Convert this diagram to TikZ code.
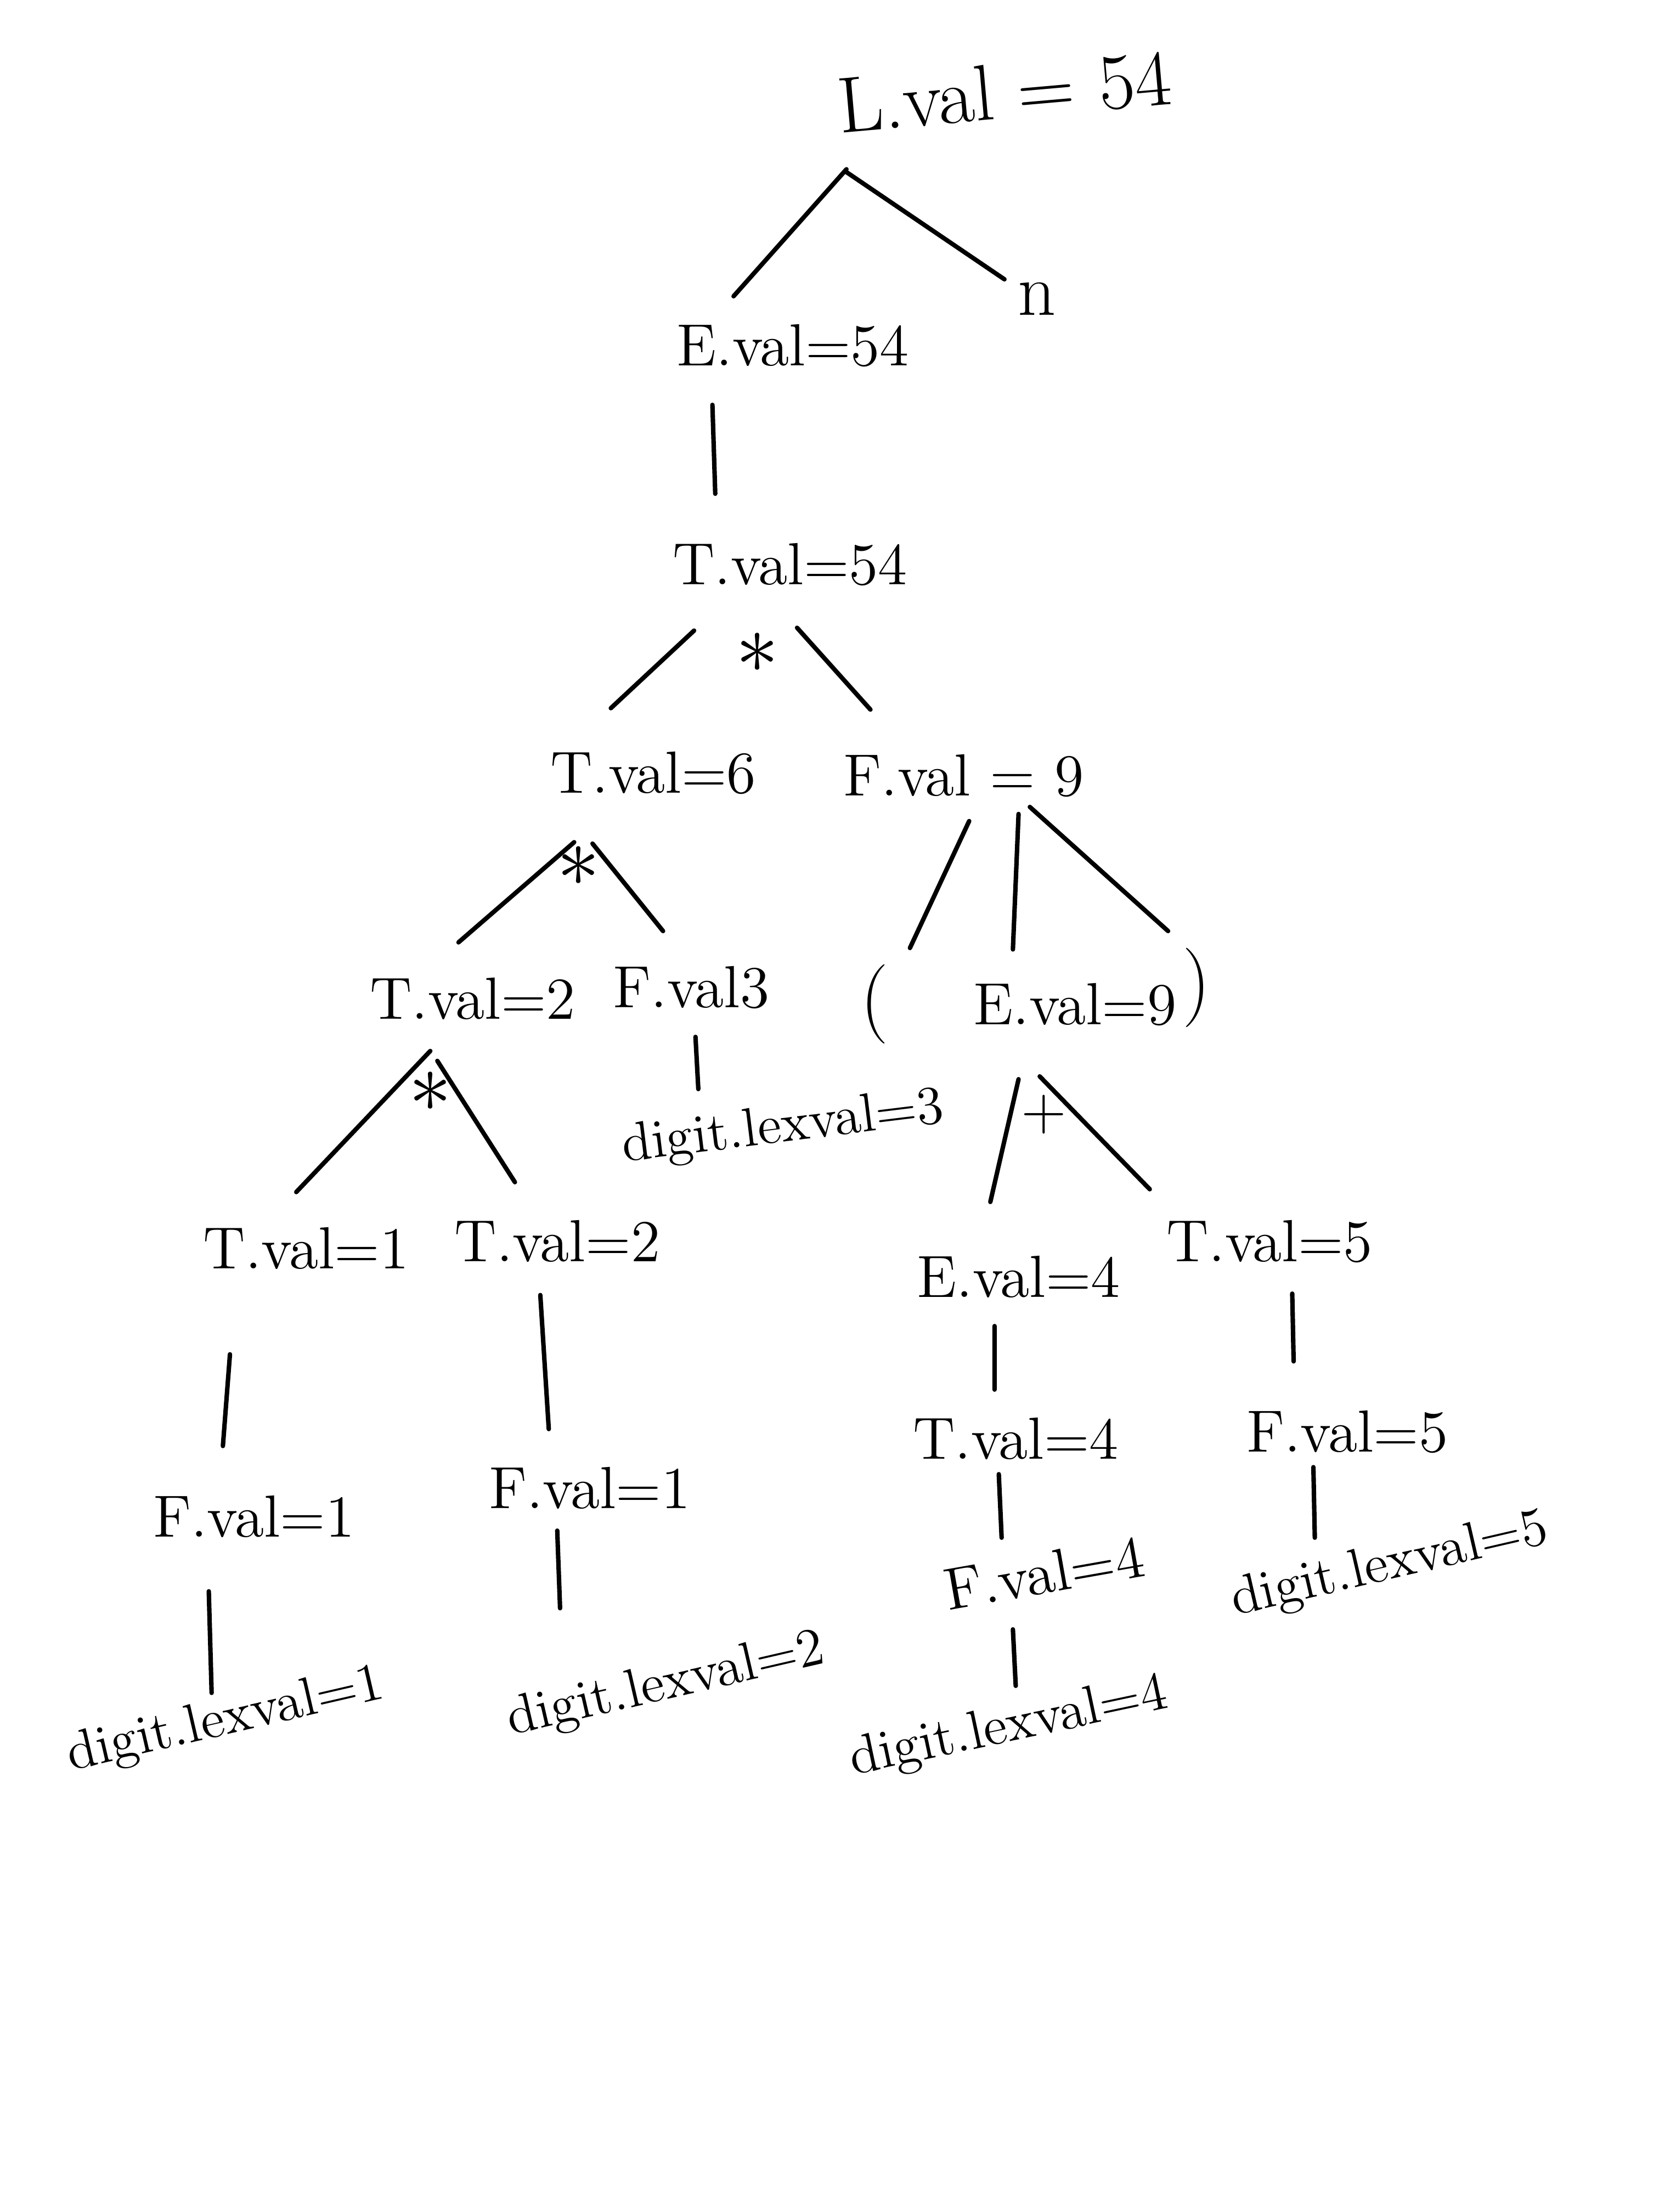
\documentclass[tikz,border=0pt]{standalone}
\usepackage{tikz}

\begin{document}
\begin{tikzpicture}[
  lbl/.style={inner sep=1pt, font=\fontsize{12}{14}\selectfont},
  dig/.style={inner sep=1pt, font=\fontsize{11}{13}\selectfont, rotate=13},
  op/.style={inner sep=0pt, font=\fontsize{16}{18}\selectfont},
  branch/.style={line width=0.9pt, line cap=round}
]
\useasboundingbox (0,0) rectangle (11.76,-15.68);
\fill[white] (0,0) rectangle (11.76,-15.68);

% root and first levels
\node (l0) [lbl, font=\fontsize{16}{19}\selectfont, rotate=5] at (7.12,-0.65) {L.val = 54};
\node (e1) [lbl] at (5.62,-2.45) {E.val=54};
\node (nl) [lbl, font=\fontsize{15}{18}\selectfont] at (7.35,-2.12) {n};
\node (t1) [lbl] at (5.60,-4.00) {T.val=54};
\node (mul1) [op] at (5.37,-4.63) {$*$};
\node (t2) [lbl] at (4.63,-5.48) {T.val=6};
\node (f1) [lbl] at (6.83,-5.50) {F.val = 9};

% left subtree
\node (mul2) [op] at (4.10,-6.14) {$*$};
\node (t3) [lbl] at (3.35,-7.08) {T.val=2};
\node (f2) [lbl] at (4.90,-7.00) {F.val3};
\node (dig3) [dig, rotate=-6] at (5.55,-8.00) {digit.lexval=3};
\node (mul3) [op] at (3.05,-7.74) {$*$};
\node (t4) [lbl] at (2.17,-8.85) {T.val=1};
\node (t5) [lbl] at (3.95,-8.80) {T.val=2};
\node (f3) [lbl] at (1.80,-10.75) {F.val=1};
\node (f4) [lbl] at (4.18,-10.55) {F.val=1};
\node (dig1) [dig] at (1.60,-12.20) {digit.lexval=1};
\node (dig2) [dig] at (4.72,-11.95) {digit.lexval=2};

% right subtree
\node (lpar) [op] at (6.20,-7.12) {(};
\node (e2) [lbl] at (7.62,-7.12) {E.val=9};
\node (rpar) [op] at (8.48,-7.00) {)};
\node (plus) [op, font=\fontsize{12}{14}\selectfont] at (7.40,-7.90) {$+$};
\node (e3) [lbl] at (7.22,-9.05) {E.val=4};
\node (t6) [lbl] at (9.00,-8.80) {T.val=5};
\node (t7) [lbl] at (7.20,-10.20) {T.val=4};
\node (f5) [lbl] at (9.55,-10.15) {F.val=5};
\node (f6) [lbl, rotate=10] at (7.40,-11.15) {F.val=4};
\node (dig5) [dig] at (9.85,-11.10) {digit.lexval=5};
\node (dig4) [dig, rotate=-1] at (7.15,-12.25) {digit.lexval=4};

% branches
\draw [branch] ([shift={(-1.12,-0.55)}]l0.center) -- ([shift={(-0.42,0.35)}]e1.center);
\draw [branch] ([shift={(-1.12,-0.57)}]l0.center) -- ([shift={(-0.23,0.14)}]nl.center);
\draw [branch] ([shift={(-0.57,-0.42)}]e1.center) -- ([shift={(-0.53,0.50)}]t1.center);
\draw [branch] ([shift={(-0.68,-0.47)}]t1.center) -- ([shift={(-0.30,0.46)}]t2.center);
\draw [branch] ([shift={(0.05,-0.45)}]t1.center) -- ([shift={(-0.66,0.47)}]f1.center);
\draw [branch] ([shift={(-0.56,-0.49)}]t2.center) -- ([shift={(-0.10,0.40)}]t3.center);
\draw [branch] ([shift={(-0.43,-0.50)}]t2.center) -- ([shift={(-0.20,0.40)}]f2.center);
\draw [branch] ([shift={(0.04,-0.32)}]f1.center) -- ([shift={(0.25,0.40)}]lpar.center);
\draw [branch] ([shift={(0.39,-0.27)}]f1.center) -- ([shift={(-0.44,0.39)}]e2.center);
\draw [branch] ([shift={(0.47,-0.22)}]f1.center) -- ([shift={(-0.20,0.40)}]rpar.center);
\draw [branch] ([shift={(-0.30,-0.37)}]t3.center) -- ([shift={(-0.07,0.40)}]t4.center);
\draw [branch] ([shift={(-0.25,-0.44)}]t3.center) -- ([shift={(-0.30,0.42)}]t5.center);
\draw [branch] ([shift={(0.03,-0.35)}]f2.center) -- ([shift={(-0.60,0.28)}]dig3.center);
\draw [branch] ([shift={(-0.40,-0.53)}]e2.center) -- ([shift={(-0.20,0.53)}]e3.center);
\draw [branch] ([shift={(-0.25,-0.51)}]e2.center) -- ([shift={(-0.85,0.37)}]t6.center);
\draw [branch] ([shift={(-0.54,-0.75)}]t4.center) -- ([shift={(-0.22,0.50)}]f3.center);
\draw [branch] ([shift={(-0.12,-0.38)}]t5.center) -- ([shift={(-0.29,0.42)}]f4.center);
\draw [branch] ([shift={(-0.17,-0.35)}]e3.center) -- ([shift={(-0.15,0.35)}]t7.center);
\draw [branch] ([shift={(0.16,-0.37)}]t6.center) -- ([shift={(-0.38,0.50)}]f5.center);
\draw [branch] ([shift={(-0.32,-0.53)}]f3.center) -- ([shift={(-0.10,0.20)}]dig1.center);
\draw [branch] ([shift={(-0.23,-0.30)}]f4.center) -- ([shift={(-0.75,0.55)}]dig2.center);
\draw [branch] ([shift={(-0.12,-0.25)}]t7.center) -- ([shift={(-0.30,0.25)}]f6.center);
\draw [branch] ([shift={(-0.24,-0.25)}]f5.center) -- ([shift={(-0.53,0.20)}]dig5.center);
\draw [branch] ([shift={(-0.22,-0.40)}]f6.center) -- ([shift={(0.05,0.30)}]dig4.center);
\end{tikzpicture}
\end{document}
